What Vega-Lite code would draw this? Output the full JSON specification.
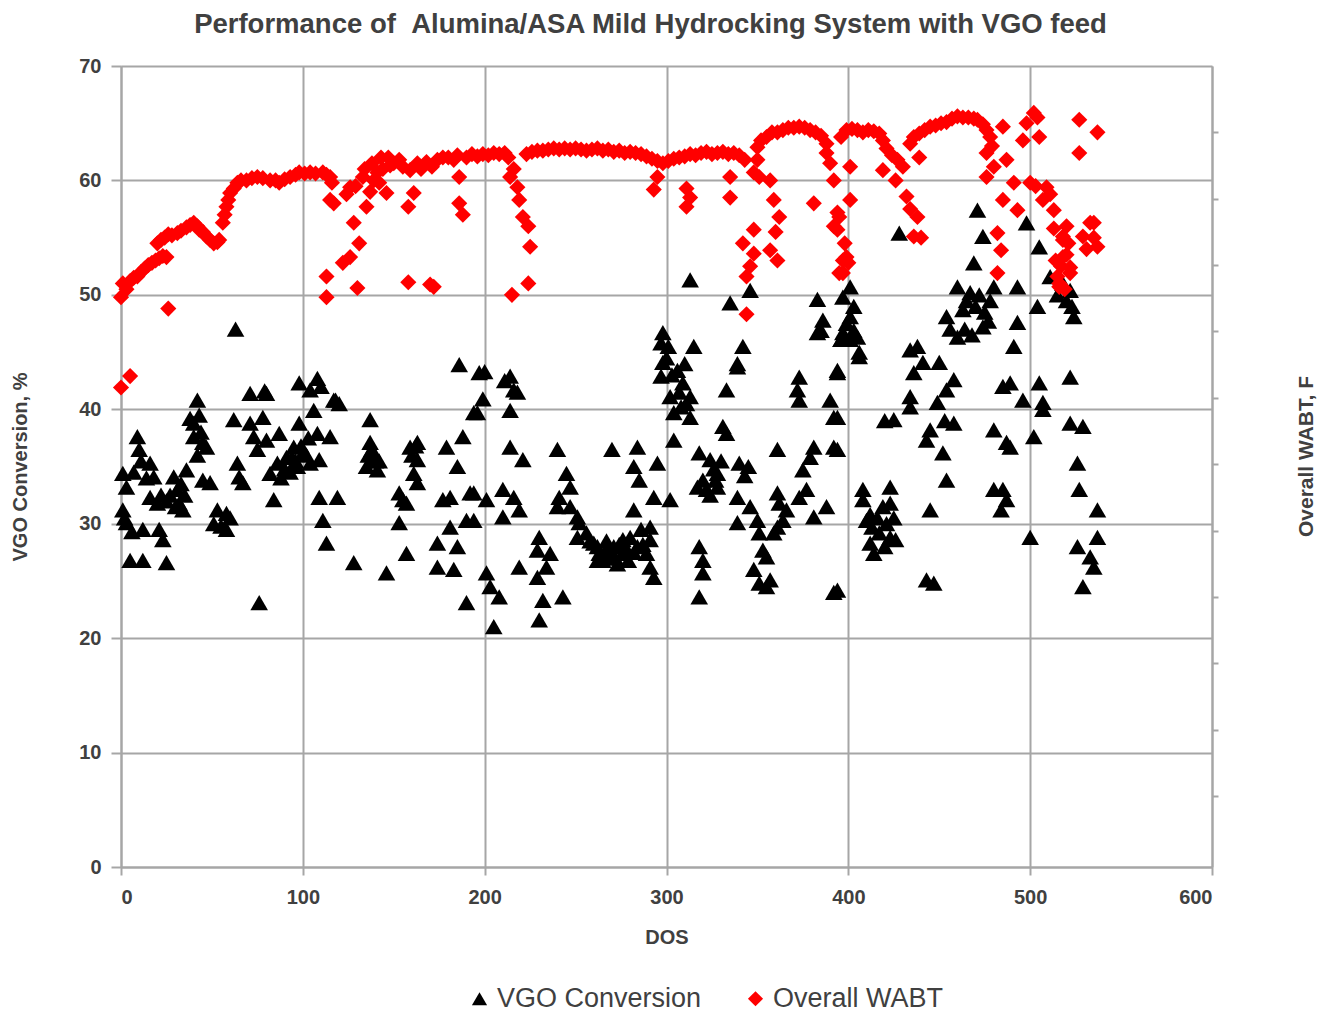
{
"$schema": "https://vega.github.io/schema/vega-lite/v6.json",
"width": 1091, "height": 801,
"autosize": {"type": "none"},
"padding": {"left": 121, "top": 66, "right": 119, "bottom": 145},
"background": "white",
"title": {"text": "Performance of \u00a0Alumina/ASA Mild Hydrocking System with VGO feed", "fontSize": 27.5, "font": "Liberation Sans", "fontWeight": "bold", "color": "#404040", "offset": 18, "anchor": "middle", "dx": -16},
"config": {
  "view": {"stroke": null},
  "axis": {"gridColor": "#a6a6a6", "gridWidth": 2, "domainColor": "#a6a6a6", "domainWidth": 2, "tickColor": "#a6a6a6", "tickWidth": 2, "labelFont": "Liberation Sans", "labelFontWeight": "bold", "labelColor": "#404040", "labelFontSize": 20, "titleFont": "Liberation Sans", "titleFontWeight": "bold", "titleColor": "#404040"},
  "legend": {"labelFont": "Liberation Sans", "labelFontSize": 27, "labelColor": "#404040"}
},
"datasets": {
"vgo": [
{"DOS":42,"v":40.8},{"DOS":40,"v":38.8},{"DOS":40,"v":37.6},{"DOS":45,"v":37.1},{"DOS":47,"v":36.7},{"DOS":9,"v":37.6},{"DOS":10,"v":36.5},{"DOS":16,"v":35.3},{"DOS":1,"v":34.4},{"DOS":3,"v":33.2},{"DOS":18,"v":34.1},{"DOS":16,"v":32.3},{"DOS":20,"v":31.8},{"DOS":29,"v":34.1},{"DOS":31,"v":33},{"DOS":32,"v":31.8},{"DOS":34,"v":31.2},{"DOS":36,"v":34.7},{"DOS":45,"v":33.8},{"DOS":49,"v":33.6},{"DOS":1,"v":31.2},{"DOS":3,"v":30.1},{"DOS":12,"v":29.5},{"DOS":21,"v":29.5},{"DOS":23,"v":28.6},{"DOS":5,"v":26.8},{"DOS":12,"v":26.8},{"DOS":25,"v":26.6},{"DOS":53,"v":31.2},{"DOS":58,"v":30.9},{"DOS":58,"v":29.5},{"DOS":76,"v":23.1},{"DOS":62,"v":39.1},{"DOS":64,"v":35.3},{"DOS":65,"v":34.1},{"DOS":67,"v":33.6},{"DOS":71,"v":38.8},{"DOS":78,"v":39.3},{"DOS":73,"v":37.6},{"DOS":75,"v":36.5},{"DOS":80,"v":37.3},{"DOS":71,"v":41.4},{"DOS":80,"v":41.4},{"DOS":87,"v":37.9},{"DOS":82,"v":34.4},{"DOS":84,"v":32.1},{"DOS":86,"v":35.3},{"DOS":91,"v":35.8},{"DOS":95,"v":36.7},{"DOS":97,"v":35},{"DOS":100,"v":36.2},{"DOS":104,"v":35.3},{"DOS":109,"v":35.6},{"DOS":98,"v":38.8},{"DOS":106,"v":39.9},{"DOS":108,"v":37.9},{"DOS":115,"v":37.6},{"DOS":104,"v":41.7},{"DOS":117,"v":40.8},{"DOS":109,"v":32.3},{"DOS":119,"v":32.3},{"DOS":111,"v":30.3},{"DOS":113,"v":28.3},{"DOS":137,"v":39.1},{"DOS":137,"v":37.1},{"DOS":139,"v":35.8},{"DOS":141,"v":34.7},{"DOS":135,"v":35},{"DOS":128,"v":26.6},{"DOS":146,"v":25.7},{"DOS":159,"v":36.7},{"DOS":163,"v":37.1},{"DOS":163,"v":35.6},{"DOS":161,"v":34.4},{"DOS":163,"v":33.6},{"DOS":153,"v":32.7},{"DOS":155,"v":32.1},{"DOS":153,"v":30.1},{"DOS":157,"v":31.8},{"DOS":157,"v":27.4},{"DOS":179,"v":36.7},{"DOS":185,"v":35},{"DOS":177,"v":32.1},{"DOS":181,"v":32.3},{"DOS":192,"v":32.7},{"DOS":181,"v":29.7},{"DOS":190,"v":30.3},{"DOS":174,"v":28.3},{"DOS":185,"v":28},{"DOS":174,"v":26.2},{"DOS":183,"v":26},{"DOS":188,"v":37.6},{"DOS":196,"v":39.7},{"DOS":190,"v":23.1},
{"DOS":43,"v":39.5},{"DOS":44,"v":38},{"DOS":38,"v":39.2},{"DOS":42,"v":36},{"DOS":88,"v":34},{"DOS":90,"v":34.8},{"DOS":93,"v":34.5},{"DOS":96,"v":35.5},{"DOS":99,"v":36.8},{"DOS":102,"v":36},{"DOS":103,"v":37.5},{"DOS":94,"v":35.8},{"DOS":11,"v":35.5},{"DOS":14,"v":34},{"DOS":7,"v":34.5},{"DOS":22,"v":32.5},{"DOS":25,"v":32},{"DOS":27,"v":32.5},{"DOS":30,"v":31.5},{"DOS":33,"v":33.5},{"DOS":35,"v":32.5},{"DOS":51,"v":30},{"DOS":55,"v":29.8},{"DOS":60,"v":30.5},{"DOS":2,"v":30.5},{"DOS":6,"v":29.3},{"DOS":138,"v":36.5},{"DOS":140,"v":35.5},{"DOS":142,"v":35.5},{"DOS":136,"v":36},{"DOS":160,"v":36},{"DOS":162,"v":36.8},
{"DOS":63,"v":47},{"DOS":79,"v":41.6},{"DOS":98,"v":42.3},{"DOS":108,"v":42.7},{"DOS":110,"v":42},{"DOS":118,"v":40.8},{"DOS":186,"v":43.9},{"DOS":200,"v":43.3},{"DOS":211,"v":42.5},{"DOS":216,"v":41.7},{"DOS":120,"v":40.5},
{"DOS":197,"v":43.2},{"DOS":214,"v":42.9},{"DOS":218,"v":41.5},{"DOS":199,"v":40.9},{"DOS":194,"v":39.7},{"DOS":214,"v":39.9},{"DOS":214,"v":36.7},{"DOS":221,"v":35.6},{"DOS":240,"v":36.5},{"DOS":245,"v":34.4},{"DOS":247,"v":33.2},{"DOS":241,"v":32.3},{"DOS":240,"v":31.5},{"DOS":194,"v":32.7},{"DOS":201,"v":32.1},{"DOS":210,"v":33},{"DOS":216,"v":32.3},{"DOS":219,"v":31.2},{"DOS":210,"v":30.6},{"DOS":194,"v":30.3},{"DOS":230,"v":28.8},{"DOS":229,"v":27.7},{"DOS":236,"v":27.4},{"DOS":234,"v":26.2},{"DOS":219,"v":26.2},{"DOS":229,"v":25.3},{"DOS":201,"v":25.7},{"DOS":203,"v":24.5},{"DOS":208,"v":23.6},{"DOS":232,"v":23.3},{"DOS":243,"v":23.6},{"DOS":230,"v":21.6},{"DOS":205,"v":21},{"DOS":247,"v":31.5},{"DOS":251,"v":30.6},{"DOS":252,"v":30.1},{"DOS":256,"v":29.2},{"DOS":260,"v":28.3},{"DOS":263,"v":27.4},{"DOS":265,"v":26.8},{"DOS":268,"v":27.7},{"DOS":271,"v":28},{"DOS":276,"v":28.6},{"DOS":280,"v":28.8},{"DOS":276,"v":27.4},{"DOS":284,"v":28},{"DOS":262,"v":26.8},{"DOS":270,"v":27.1},{"DOS":251,"v":28.8},{"DOS":270,"v":36.5},{"DOS":284,"v":36.7},{"DOS":282,"v":35},{"DOS":285,"v":33.8},{"DOS":295,"v":35.3},{"DOS":293,"v":32.3},{"DOS":282,"v":31.2},{"DOS":291,"v":29.7},{"DOS":291,"v":28.6},{"DOS":289,"v":27.4},{"DOS":291,"v":26.2},{"DOS":293,"v":25.3},{"DOS":302,"v":32.1},{"DOS":304,"v":37.3},{"DOS":298,"v":46.7},{"DOS":297,"v":45.8},{"DOS":298,"v":44.1},{"DOS":297,"v":42.9},{"DOS":306,"v":43.4},{"DOS":309,"v":42.3},{"DOS":302,"v":41.1},{"DOS":308,"v":40.2},{"DOS":313,"v":41.1},{"DOS":315,"v":45.5},{"DOS":313,"v":39.3},{"DOS":304,"v":39.7},{"DOS":318,"v":36.2},{"DOS":324,"v":35.6},{"DOS":328,"v":34.4},{"DOS":320,"v":33.8},{"DOS":322,"v":33},{"DOS":328,"v":33.2},{"DOS":317,"v":33.2},{"DOS":340,"v":35.3},{"DOS":331,"v":38.5},{"DOS":333,"v":37.9},{"DOS":342,"v":45.5},{"DOS":339,"v":43.7},{"DOS":333,"v":41.7},{"DOS":318,"v":28},{"DOS":320,"v":26.8},{"DOS":320,"v":25.7},{"DOS":318,"v":23.6},{"DOS":339,"v":32.3},{"DOS":339,"v":30.1},{"DOS":346,"v":31.5},{"DOS":350,"v":30.3},{"DOS":351,"v":29.2},{"DOS":353,"v":27.7},{"DOS":355,"v":27.1},{"DOS":348,"v":26},{"DOS":351,"v":24.8},{"DOS":355,"v":24.5},{"DOS":357,"v":25.1},{"DOS":361,"v":32.7},{"DOS":362,"v":31.8},{"DOS":366,"v":31.2},{"DOS":364,"v":30.3},{"DOS":361,"v":29.7},{"DOS":359,"v":29.2},{"DOS":373,"v":32.3},{"DOS":377,"v":33},{"DOS":381,"v":30.6},{"DOS":388,"v":31.5},{"DOS":375,"v":34.7},{"DOS":379,"v":35.8},{"DOS":381,"v":36.7},{"DOS":392,"v":36.7},{"DOS":361,"v":36.5},{"DOS":392,"v":24},{"DOS":373,"v":42.8},{"DOS":372,"v":41.7},{"DOS":373,"v":40.8},{"DOS":385,"v":46.9},{"DOS":394,"v":43.4},{"DOS":390,"v":40.8},{"DOS":394,"v":39.3},{"DOS":396,"v":46.1},
{"DOS":258,"v":28.5},{"DOS":262,"v":28},{"DOS":266,"v":27.5},{"DOS":272,"v":27},{"DOS":274,"v":28.2},{"DOS":278,"v":27.8},{"DOS":282,"v":27.5},{"DOS":287,"v":28.2},{"DOS":267,"v":28.5},{"DOS":273,"v":26.5},{"DOS":286,"v":29.5},{"DOS":279,"v":26.8},{"DOS":300,"v":44.5},{"DOS":303,"v":43},{"DOS":301,"v":45.5},{"DOS":307,"v":41.5},{"DOS":311,"v":40.5},{"DOS":310,"v":44},{"DOS":326,"v":34.8},{"DOS":330,"v":35.5},{"DOS":327,"v":33.8},{"DOS":324,"v":32.5},{"DOS":345,"v":35},{"DOS":343,"v":34.2},
{"DOS":313,"v":51.3},{"DOS":335,"v":49.3},{"DOS":346,"v":50.4},{"DOS":339,"v":44},{"DOS":383,"v":49.6},{"DOS":386,"v":47.8},{"DOS":383,"v":46.7},{"DOS":397,"v":46.7},
{"DOS":471,"v":57.4},{"DOS":498,"v":56.3},{"DOS":428,"v":55.4},{"DOS":474,"v":55.1},{"DOS":505,"v":54.2},{"DOS":469,"v":52.8},{"DOS":511,"v":51.6},{"DOS":493,"v":50.7},{"DOS":480,"v":50.7},{"DOS":460,"v":50.7},{"DOS":401,"v":50.7},{"DOS":467,"v":50.2},{"DOS":397,"v":49.8},{"DOS":504,"v":49},{"DOS":522,"v":50.4},{"DOS":524,"v":48.1},{"DOS":493,"v":47.6},{"DOS":454,"v":48.1},{"DOS":463,"v":48.7},{"DOS":474,"v":47.2},{"DOS":477,"v":47.7},{"DOS":460,"v":46.3},{"DOS":401,"v":48.1},{"DOS":403,"v":46.9},{"DOS":401,"v":46.1},{"DOS":406,"v":44.6},{"DOS":396,"v":46.1},{"DOS":491,"v":45.5},{"DOS":394,"v":43.2},{"DOS":434,"v":45.2},{"DOS":438,"v":45.5},{"DOS":436,"v":43.2},{"DOS":441,"v":44.1},{"DOS":450,"v":44.1},{"DOS":458,"v":42.6},{"DOS":454,"v":41.7},{"DOS":449,"v":40.6},{"DOS":434,"v":41.1},{"DOS":434,"v":40.2},{"DOS":425,"v":39.1},{"DOS":420,"v":39},{"DOS":445,"v":38.2},{"DOS":443,"v":37.3},{"DOS":453,"v":39},{"DOS":458,"v":38.8},{"DOS":452,"v":36.2},{"DOS":454,"v":33.8},{"DOS":445,"v":31.2},{"DOS":443,"v":25.1},{"DOS":447,"v":24.8},{"DOS":485,"v":42},{"DOS":489,"v":42.3},{"DOS":496,"v":40.8},{"DOS":505,"v":42.3},{"DOS":507,"v":40.6},{"DOS":507,"v":40},{"DOS":480,"v":38.2},{"DOS":487,"v":37.1},{"DOS":489,"v":36.7},{"DOS":502,"v":37.6},{"DOS":485,"v":33},{"DOS":480,"v":33},{"DOS":487,"v":32.1},{"DOS":484,"v":31.2},{"DOS":500,"v":28.8},{"DOS":522,"v":42.8},{"DOS":522,"v":38.8},{"DOS":529,"v":38.5},{"DOS":526,"v":35.3},{"DOS":527,"v":33},{"DOS":537,"v":31.2},{"DOS":537,"v":28.8},{"DOS":526,"v":28},{"DOS":533,"v":27.1},{"DOS":535,"v":26.2},{"DOS":529,"v":24.5},{"DOS":408,"v":33},{"DOS":423,"v":33.2},{"DOS":408,"v":32.1},{"DOS":423,"v":31.8},{"DOS":410,"v":30.3},{"DOS":413,"v":29.7},{"DOS":417,"v":29.2},{"DOS":423,"v":28.8},{"DOS":412,"v":28.3},{"DOS":414,"v":27.4},{"DOS":420,"v":28},{"DOS":426,"v":28.6},{"DOS":394,"v":24.2},{"DOS":394,"v":36.5},{"DOS":392,"v":39.3},{"DOS":405,"v":46.3},{"DOS":406,"v":45},
{"DOS":399,"v":47.5},{"DOS":403,"v":49},{"DOS":470,"v":49},{"DOS":472,"v":50},{"DOS":475,"v":48.5},{"DOS":478,"v":49.5},{"DOS":465,"v":49.5},{"DOS":456,"v":47},{"DOS":464,"v":47},{"DOS":468,"v":46.5},{"DOS":515,"v":50},{"DOS":518,"v":51},{"DOS":520,"v":49.5},{"DOS":523,"v":49},{"DOS":412,"v":30.8},{"DOS":416,"v":30.5},{"DOS":419,"v":31.5},{"DOS":421,"v":30},{"DOS":425,"v":30.5}
],
"wabt": [
{"DOS":0,"v":41.9},{"DOS":5,"v":42.9},{"DOS":0,"v":49.8},{"DOS":1,"v":51},{"DOS":3,"v":50.5},{"DOS":5,"v":51.2},{"DOS":7,"v":51.5},{"DOS":9,"v":51.6},{"DOS":11,"v":52},{"DOS":13,"v":52.3},{"DOS":15,"v":52.6},{"DOS":17,"v":52.8},{"DOS":19,"v":53},{"DOS":21,"v":53.2},{"DOS":23,"v":53.4},{"DOS":25,"v":53.3},{"DOS":26,"v":48.8},{"DOS":20,"v":54.5},{"DOS":22,"v":54.8},{"DOS":24,"v":55},{"DOS":26,"v":55.3},{"DOS":28,"v":55.2},{"DOS":31,"v":55.4},{"DOS":33,"v":55.6},{"DOS":36,"v":55.9},{"DOS":38,"v":56.1},{"DOS":40,"v":56.3},{"DOS":42,"v":56},{"DOS":43,"v":55.7},{"DOS":45,"v":55.5},{"DOS":47,"v":55.1},{"DOS":49,"v":54.8},{"DOS":51,"v":54.5},{"DOS":53,"v":54.6},{"DOS":54,"v":54.8},{"DOS":56,"v":56.3},{"DOS":57,"v":57},{"DOS":58,"v":57.7},{"DOS":59,"v":58.3},{"DOS":60,"v":58.9},{"DOS":62,"v":59.3},{"DOS":64,"v":59.8},{"DOS":66,"v":60},{"DOS":69,"v":60},{"DOS":72,"v":60.2},{"DOS":75,"v":60.3},{"DOS":78,"v":60.2},{"DOS":82,"v":60},{"DOS":85,"v":60},{"DOS":87,"v":59.8},{"DOS":90,"v":60.1},{"DOS":93,"v":60.3},{"DOS":96,"v":60.5},{"DOS":98,"v":60.7},{"DOS":101,"v":60.6},{"DOS":104,"v":60.7},{"DOS":107,"v":60.6},{"DOS":111,"v":60.7},{"DOS":113,"v":60.5},{"DOS":115,"v":60.3},{"DOS":116,"v":59.8},
{"DOS":115,"v":58.3},{"DOS":117,"v":58},{"DOS":113,"v":51.6},{"DOS":113,"v":49.8},{"DOS":122,"v":52.8},{"DOS":126,"v":53.3},{"DOS":126,"v":59.4},{"DOS":128,"v":56.3},{"DOS":130,"v":50.6},{"DOS":131,"v":54.5},{"DOS":133,"v":60.3},{"DOS":135,"v":57.7},{"DOS":141,"v":60.7},{"DOS":142,"v":59.8},{"DOS":146,"v":58.9},{"DOS":153,"v":61.8},{"DOS":159,"v":60.9},{"DOS":161,"v":58.9},{"DOS":158,"v":57.7},{"DOS":158,"v":51.1},{"DOS":170,"v":50.9},{"DOS":172,"v":50.7},{"DOS":177,"v":62},{"DOS":186,"v":60.3},{"DOS":186,"v":58},{"DOS":188,"v":57},
{"DOS":137,"v":59},{"DOS":139,"v":60},{"DOS":144,"v":61},{"DOS":148,"v":61.3},{"DOS":150,"v":61.5},{"DOS":155,"v":61.2},{"DOS":163,"v":61.5},{"DOS":165,"v":61},{"DOS":168,"v":61.6},{"DOS":171,"v":61.2},{"DOS":174,"v":61.8},{"DOS":180,"v":62},{"DOS":183,"v":61.8},{"DOS":185,"v":62.2},{"DOS":190,"v":62},{"DOS":193,"v":62.3},{"DOS":196,"v":62.1},{"DOS":199,"v":62.3},{"DOS":202,"v":62.2},{"DOS":205,"v":62.4},{"DOS":208,"v":62.3},{"DOS":211,"v":62.4},{"DOS":213,"v":62},{"DOS":124,"v":58.8},{"DOS":129,"v":59.5},{"DOS":134,"v":61},{"DOS":138,"v":61.5},{"DOS":143,"v":62},{"DOS":147,"v":62},
{"DOS":214,"v":60.3},{"DOS":218,"v":59.4},{"DOS":219,"v":58.3},{"DOS":221,"v":56.8},{"DOS":224,"v":56},{"DOS":225,"v":54.2},{"DOS":224,"v":51},{"DOS":215,"v":50},{"DOS":216,"v":61},
{"DOS":223,"v":62.3},{"DOS":226,"v":62.5},{"DOS":229,"v":62.6},{"DOS":232,"v":62.6},{"DOS":235,"v":62.7},{"DOS":238,"v":62.8},{"DOS":241,"v":62.7},{"DOS":244,"v":62.8},{"DOS":247,"v":62.7},{"DOS":250,"v":62.8},{"DOS":253,"v":62.7},{"DOS":256,"v":62.6},{"DOS":259,"v":62.7},{"DOS":262,"v":62.8},{"DOS":265,"v":62.6},{"DOS":268,"v":62.7},{"DOS":271,"v":62.5},{"DOS":274,"v":62.6},{"DOS":277,"v":62.4},{"DOS":280,"v":62.5},{"DOS":283,"v":62.4},{"DOS":286,"v":62.3},{"DOS":289,"v":62.1},{"DOS":292,"v":61.9},{"DOS":295,"v":61.7},{"DOS":298,"v":61.5},{"DOS":301,"v":61.7},{"DOS":304,"v":61.9},{"DOS":307,"v":62},{"DOS":310,"v":62.1},{"DOS":313,"v":62.3},{"DOS":316,"v":62.2},{"DOS":319,"v":62.4},{"DOS":322,"v":62.5},{"DOS":325,"v":62.3},{"DOS":328,"v":62.4},{"DOS":331,"v":62.5},{"DOS":334,"v":62.3},{"DOS":337,"v":62.4},{"DOS":340,"v":62.2},{"DOS":343,"v":61.8},
{"DOS":293,"v":59.2},{"DOS":295,"v":60.3},{"DOS":311,"v":59.3},{"DOS":311,"v":57.7},{"DOS":313,"v":58.5},{"DOS":335,"v":58.5},{"DOS":335,"v":60.3},
{"DOS":350,"v":62.9},{"DOS":352,"v":63.5},{"DOS":348,"v":60.7},{"DOS":350,"v":61.8},{"DOS":351,"v":60.3},{"DOS":357,"v":60},{"DOS":359,"v":58.3},{"DOS":362,"v":56.8},{"DOS":348,"v":55.7},{"DOS":342,"v":54.5},{"DOS":348,"v":53.6},{"DOS":357,"v":53.9},{"DOS":361,"v":53},{"DOS":344,"v":51.6},{"DOS":344,"v":48.3},{"DOS":346,"v":52.5},{"DOS":360,"v":55.5},
{"DOS":355,"v":63.8},{"DOS":358,"v":64.2},{"DOS":361,"v":64.2},{"DOS":364,"v":64.4},{"DOS":367,"v":64.6},{"DOS":370,"v":64.6},{"DOS":373,"v":64.7},{"DOS":376,"v":64.6},{"DOS":379,"v":64.4},{"DOS":382,"v":64.2},{"DOS":385,"v":63.9},{"DOS":388,"v":63.2},{"DOS":388,"v":62.4},{"DOS":392,"v":60},{"DOS":381,"v":58},{"DOS":394,"v":57.2},{"DOS":392,"v":56},{"DOS":397,"v":51.9},{"DOS":397,"v":53},{"DOS":390,"v":61.5},
{"DOS":396,"v":63.8},{"DOS":399,"v":64.4},{"DOS":402,"v":64.5},{"DOS":405,"v":64.4},{"DOS":408,"v":64.2},{"DOS":411,"v":64.4},{"DOS":414,"v":64.3},{"DOS":417,"v":64.1},{"DOS":419,"v":63.5},{"DOS":421,"v":62.8},{"DOS":424,"v":62.2},{"DOS":427,"v":61.8},{"DOS":430,"v":61.2},{"DOS":419,"v":60.9},{"DOS":439,"v":62},{"DOS":401,"v":61.2},{"DOS":401,"v":58.3},{"DOS":395,"v":56.8},{"DOS":394,"v":55.7},{"DOS":399,"v":53.3},{"DOS":395,"v":51.9},{"DOS":400,"v":52.8},{"DOS":398,"v":54.5},{"DOS":426,"v":60},
{"DOS":432,"v":58.6},{"DOS":438,"v":56.8},{"DOS":436,"v":55.1},{"DOS":440,"v":55},{"DOS":434,"v":57.5},
{"DOS":434,"v":63.2},{"DOS":436,"v":63.8},{"DOS":439,"v":64.1},{"DOS":442,"v":64.4},{"DOS":445,"v":64.7},{"DOS":448,"v":64.8},{"DOS":451,"v":65},{"DOS":454,"v":65.1},{"DOS":457,"v":65.4},{"DOS":460,"v":65.6},{"DOS":463,"v":65.5},{"DOS":466,"v":65.5},{"DOS":469,"v":65.4},{"DOS":471,"v":65.3},{"DOS":474,"v":64.9},{"DOS":476,"v":64.4},{"DOS":478,"v":63.8},{"DOS":485,"v":64.7},
{"DOS":476,"v":62.4},{"DOS":480,"v":61.2},{"DOS":476,"v":60.3},{"DOS":487,"v":61.8},{"DOS":491,"v":59.8},{"DOS":485,"v":58.3},{"DOS":493,"v":57.4},{"DOS":482,"v":55.4},{"DOS":484,"v":53.9},{"DOS":482,"v":51.9},{"DOS":479,"v":63},
{"DOS":502,"v":65.9},{"DOS":504,"v":65.5},{"DOS":498,"v":65},{"DOS":505,"v":63.8},{"DOS":496,"v":63.5},{"DOS":500,"v":59.8},{"DOS":509,"v":59.4},{"DOS":507,"v":58.3},{"DOS":513,"v":57.4},{"DOS":503,"v":59.5},{"DOS":511,"v":58.8},
{"DOS":518,"v":55.1},{"DOS":518,"v":53.3},{"DOS":515,"v":51.6},{"DOS":522,"v":52.4},{"DOS":516,"v":50.7},{"DOS":518,"v":54.8},{"DOS":522,"v":51.9},{"DOS":516,"v":51},{"DOS":520,"v":53.5},{"DOS":517,"v":52.5},{"DOS":519,"v":50.5},{"DOS":521,"v":54.5},{"DOS":514,"v":53},{"DOS":513,"v":55.8},{"DOS":520,"v":56},
{"DOS":535,"v":56.3},{"DOS":537,"v":54.2},{"DOS":529,"v":55.1},{"DOS":527,"v":65.3},{"DOS":537,"v":64.2},{"DOS":527,"v":62.4},{"DOS":533,"v":56.3},{"DOS":531,"v":54},{"DOS":535,"v":55}
]
},
"layer": [
{
 "data": {"name": "vgo"},
 "mark": {"type": "point", "filled": true, "size": 310, "opacity": 1, "strokeWidth": 0},
 "encoding": {
  "x": {"field": "DOS", "type": "quantitative", "scale": {"domain": [0, 600], "nice": false},
        "axis": {"values": [0,100,200,300,400,500,600], "grid": true, "tickSize": 8, "labelPadding": 12, "title": "DOS", "titleFontSize": 20, "titlePadding": 20}},
  "y": {"field": "v", "type": "quantitative", "scale": {"domain": [0, 70], "nice": false},
        "axis": {"orient": "left", "values": [0,10,20,30,40,50,60,70], "grid": true, "tickSize": 10, "labelPadding": 10, "title": "VGO Conversion, %", "titleFontSize": 20, "titlePadding": 48}},
  "color": {"datum": "VGO Conversion", "type": "nominal", "scale": {"domain": ["VGO Conversion", "Overall WABT"], "range": ["#000000", "#ff0000"]},
            "legend": {"orient": "none", "legendX": 345, "legendY": 919, "direction": "horizontal", "title": null, "symbolSize": 230, "columnPadding": 40, "labelLimit": 400, "symbolOffset": 0}},
  "shape": {"datum": "VGO Conversion", "type": "nominal", "scale": {"domain": ["VGO Conversion", "Overall WABT"], "range": ["triangle-up", "diamond"]}, "legend": {"orient": "none", "legendX": 345, "legendY": 919, "direction": "horizontal", "title": null}}
 }
},
{
 "data": {"name": "wabt"},
 "mark": {"type": "point", "filled": true, "size": 260, "opacity": 1, "strokeWidth": 0},
 "encoding": {
  "x": {"field": "DOS", "type": "quantitative"},
  "y": {"field": "v", "type": "quantitative",
        "axis": {"orient": "right", "values": [64.2, 58.4, 52.6, 46.8, 41, 35.2, 29.4, 23.6, 17.8, 12, 6.2], "grid": false, "labels": false, "tickSize": 6, "title": "Overall WABT, F", "titleAngle": 270, "titleFontSize": 21, "titlePadding": 97, "titleY": 390}},
  "color": {"datum": "Overall WABT", "type": "nominal"},
  "shape": {"datum": "Overall WABT", "type": "nominal"}
 }
}
],
"resolve": {"axis": {"y": "independent"}}
}
